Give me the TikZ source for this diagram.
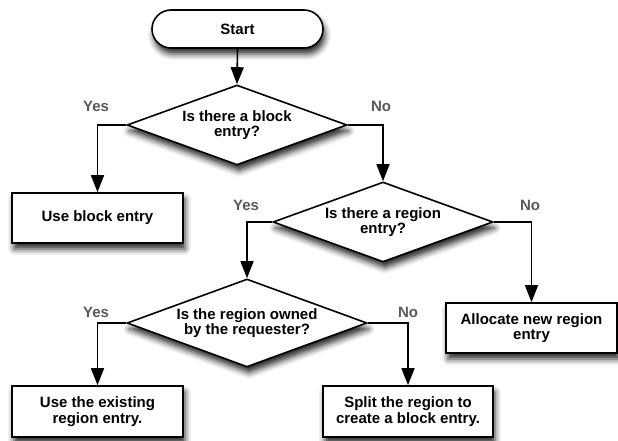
\documentclass[tikz,border=0pt]{standalone}
\usepackage{fontspec}
\setmainfont{Liberation Sans}
\usetikzlibrary{shapes.geometric,arrows.meta,shadows.blur}
\begin{document}
\begin{tikzpicture}[x=1pt,y=1pt,
  every node/.style={font=\fontsize{15}{15.5}\selectfont\bfseries},
  shad/.style={blur shadow={shadow xshift=2pt,shadow yshift=-6pt,shadow blur radius=6pt,shadow opacity=85}},
  box/.style={draw,line width=1.6pt,fill=white,align=center,inner sep=0pt,shad},
  term/.style={box,rounded corners=19pt,minimum width=171pt,minimum height=38pt},
  procbox/.style={box,minimum width=171pt,minimum height=50pt},
  decide/.style={draw,line width=1.6pt,fill=white,shape=diamond,align=center,inner sep=0pt,shad},
  lab/.style={text=black!65},
  conn/.style={line width=1.6pt,-{Triangle[length=17pt,width=13pt]}}
]
\useasboundingbox (0,0) rectangle (618,440);
\node[term] (start) at (237.5,411) {Start};
\node[decide,minimum width=220pt,minimum height=80pt,aspect=2.75] (d1) at (237,315) {Is there a block\\entry?};
\node[procbox] (b1) at (97.5,222) {Use block entry};
\node[decide,minimum width=220pt,minimum height=80pt,aspect=2.75] (d2) at (383,218) {Is there a region\\entry?};
\node[procbox] (alloc) at (531.5,112) {Allocate new region\\entry};
\node[decide,minimum width=240pt,minimum height=88pt,aspect=2.73] (d3) at (247,117) {Is the region owned\\by the requester?};
\node[procbox,minimum height=51pt] (b3) at (97.5,28.5) {Use the existing\\region entry.};
\node[procbox,minimum height=51pt,minimum width=170pt] (b4) at (408,28.5) {Split the region to\\create a block entry.};

\node[lab] (y1) at (96,334) {Yes};
\node[lab] (n1) at (381,334) {No};
\node[lab] (y2) at (246,235) {Yes};
\node[lab] (n2) at (530,235) {No};
\node[lab] (y3) at (96,128) {Yes};
\node[lab] (n3) at (408,128) {No};

\draw[conn] (start.south) -- (d1.north);
\draw[conn] (d1.west) -| (b1.north);
\draw[conn] (d1.east) -| (d2.north);
\draw[conn] (d2.west) -| (d3.north);
\draw[conn] (d2.east) -| (alloc.north);
\draw[conn] (d3.west) -| (b3.north);
\draw[conn] (d3.east) -| (b4.north);
\end{tikzpicture}
\end{document}
